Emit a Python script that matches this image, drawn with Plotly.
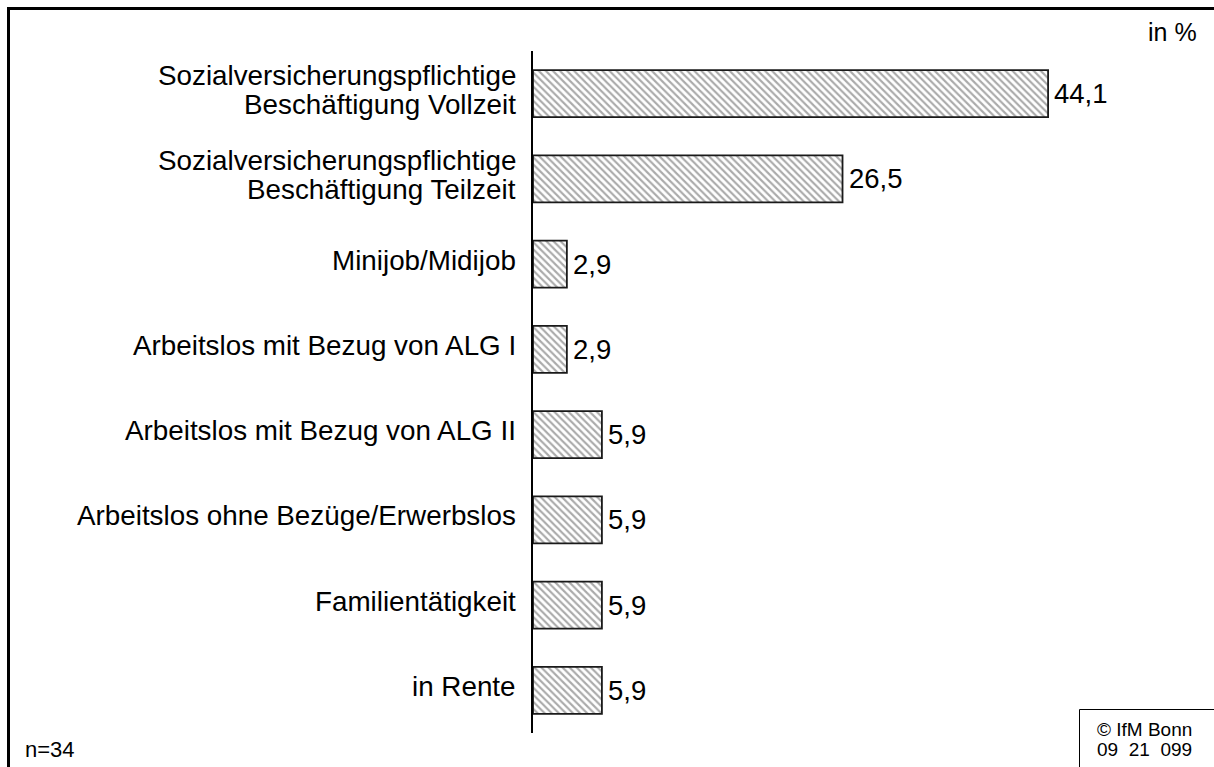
import plotly.graph_objects as go

# Erwerbsstatus (Anteile in %)
categories = [
    "Sozialversicherungspflichtige Beschäftigung Vollzeit",
    "Sozialversicherungspflichtige Beschäftigung Teilzeit",
    "Minijob/Midijob",
    "Arbeitslos mit Bezug von ALG I",
    "Arbeitslos mit Bezug von ALG II",
    "Arbeitslos ohne Bezüge/Erwerbslos",
    "Familientätigkeit",
    "in Rente",
]
label_lines = [
    ["Sozialversicherungspflichtige", "Beschäftigung Vollzeit"],
    ["Sozialversicherungspflichtige", "Beschäftigung Teilzeit"],
    ["Minijob/Midijob"],
    ["Arbeitslos mit Bezug von ALG I"],
    ["Arbeitslos mit Bezug von ALG II"],
    ["Arbeitslos ohne Bezüge/Erwerbslos"],
    ["Familientätigkeit"],
    ["in Rente"],
]
values = [44.1, 26.5, 2.9, 2.9, 5.9, 5.9, 5.9, 5.9]

unit_text = "in %"
sample_text = "n=34"
source_lines = ["© IfM Bonn", "09\u00a0\u00a021\u00a0\u00a0099"]

W, H = 1214, 767
L, R, T, B = 533, 97, 51, 34
PW, PH = W - L - R, H - T - B
FONT = "Liberation Sans, Arial, sans-serif"


def px_x(px):
    return (px - L) / PW


def px_y(py):
    return (H - B - py) / PH


fig = go.Figure(
    go.Bar(
        x=values,
        y=categories,
        orientation="h",
        width=0.55,
        marker=dict(
            color="white",
            line=dict(color="#1a1a1a", width=1.8),
            pattern=dict(shape="\\", fgcolor="#555555", bgcolor="white",
                         size=5, solidity=0.42),
        ),
        hoverinfo="skip",
    )
)

annotations = []
# category labels left of the axis
for cat, lines in zip(categories, label_lines):
    n = len(lines)
    for i, line in enumerate(lines):
        offset = (i - (n - 1) / 2) * 29
        annotations.append(dict(
            x=0, y=cat, xref="x", yref="y", text=line, showarrow=False,
            xanchor="right", yanchor="middle", xshift=-15, yshift=4 - offset,
            font=dict(family=FONT, size=27.8, color="black"),
        ))

# value labels right of each bar
for cat, v in zip(categories, values):
    annotations.append(dict(
        x=v, y=cat, xref="x", yref="y", text=f"{v:.1f}".replace(".", ","),
        showarrow=False, xanchor="left", yanchor="middle", xshift=4, yshift=0,
        font=dict(family=FONT, size=27.5, color="black"),
    ))

annotations.append(dict(
    x=px_x(1199), y=px_y(32), xref="paper", yref="paper", text=unit_text,
    showarrow=False, xanchor="right", yanchor="middle",
    font=dict(family=FONT, size=25, color="black"),
))
annotations.append(dict(
    x=px_x(23), y=px_y(749), xref="paper", yref="paper", text=sample_text,
    showarrow=False, xanchor="left", yanchor="middle",
    font=dict(family=FONT, size=22, color="black"),
))
for line, cy in zip(source_lines, [729, 749]):
    annotations.append(dict(
        x=px_x(1095), y=px_y(cy), xref="paper", yref="paper", text=line,
        showarrow=False, xanchor="left", yanchor="middle",
        font=dict(family=FONT, size=19, color="black"),
    ))

shapes = [
    # outer frame (top and left edges)
    dict(type="path", xref="paper", yref="paper",
         path=f"M {px_x(8.5)},{px_y(H + 5)} L {px_x(8.5)},{px_y(8.5)} L {px_x(W + 5)},{px_y(8.5)}",
         line=dict(color="black", width=3)),
    # source box
    dict(type="rect", xref="paper", yref="paper",
         x0=px_x(1079.5), y0=px_y(709.5), x1=px_x(W + 5), y1=px_y(H + 5),
         line=dict(color="black", width=1), fillcolor="rgba(0,0,0,0)"),
]

fig.update_layout(
    width=W, height=H,
    margin=dict(l=L, r=R, t=T, b=B, pad=0),
    paper_bgcolor="white", plot_bgcolor="white",
    showlegend=False,
    annotations=annotations,
    shapes=shapes,
    xaxis=dict(range=[0, 50], visible=False, showgrid=False, zeroline=False),
    yaxis=dict(type="category", range=[7.5, -0.5], showticklabels=False,
               showgrid=False, zeroline=False, ticks="",
               showline=True, linecolor="black", linewidth=1.5),
)

fig.write_html("out.html")
